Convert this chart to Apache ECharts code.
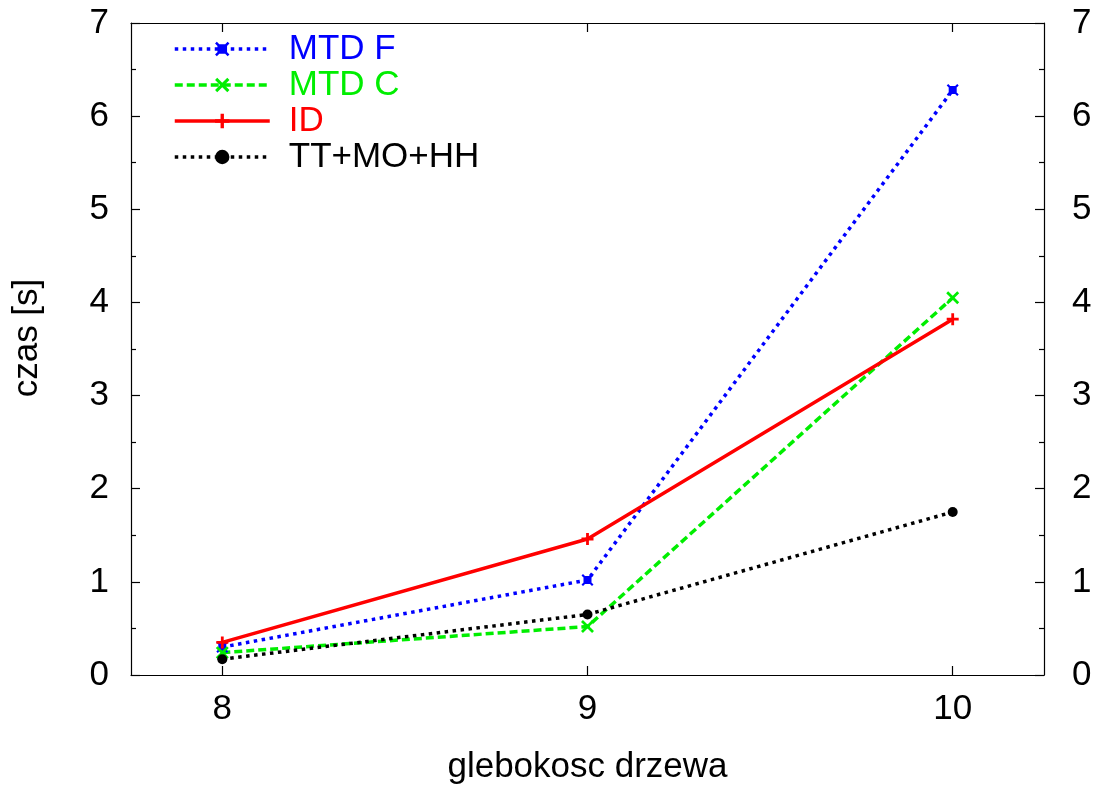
<!DOCTYPE html>
<html>
<head>
<meta charset="utf-8">
<title>czas vs glebokosc drzewa</title>
<script src="https://cdn.jsdelivr.net/npm/echarts@6/dist/echarts.min.js"></script>
<style>
  html, body { margin: 0; padding: 0; background: #fff; }
  #chart { width: 1100px; height: 790px; }
</style>
</head>
<body>
<div id="chart"></div>
<script>
// tree depth on the x axis
const depths = [8, 9, 10];
// running time in seconds for each method
const mtdF = [0.30, 1.02, 6.28];
const mtdC = [0.24, 0.52, 4.05];
const idSearch = [0.35, 1.46, 3.82];
const ttMoHh = [0.17, 0.65, 1.75];

const seriesNames = ['MTD F', 'MTD C', 'ID', 'TT+MO+HH'];
const seriesColors = ['#0000ff', '#00ee00', '#ff0000', '#000000'];

const xTicks = [8, 9, 10];
const yMax = 7;

const FONT = "'Liberation Sans', Arial, Helvetica, sans-serif";
const FS = 35;

// marker shapes
const boxCross = 'path://M2,2H10V10H2Z M0,1.5L1.5,0L6,4.5L10.5,0L12,1.5L7.5,6L12,10.5L10.5,12L6,7.5L1.5,12L0,10.5L4.5,6Z';
const crossX = 'path://M0,1.8L1.8,0L6,4.2L10.2,0L12,1.8L7.8,6L12,10.2L10.2,12L6,7.8L1.8,12L0,10.2L4.2,6Z';
const plus = 'path://M4.6,0H7.4V4.6H12V7.4H7.4V12H4.6V7.4H0V4.6H4.6Z';

function pairs(vals) {
  return depths.map((d, i) => [d, vals[i]]);
}

const chart = echarts.init(document.getElementById('chart'), null, { renderer: 'canvas' });

const baseX = {
  type: 'value', min: 7.75, max: 10.25,
  axisLine: { show: true, onZero: false, lineStyle: { color: '#000', width: 1.2 } },
  splitLine: { show: false },
};
const baseY = {
  type: 'value', min: 0, max: yMax, interval: 1,
  axisLine: { show: true, lineStyle: { color: '#000', width: 1.2 } },
  axisTick: { show: true, inside: true, length: 9, lineStyle: { color: '#000', width: 1.2 } },
  minorTick: { show: true, splitNumber: 2, length: 5, lineStyle: { color: '#000', width: 1.2 } },
  splitLine: { show: false },
};

chart.setOption({
  animation: false,
  backgroundColor: '#fff',
  textStyle: { fontFamily: FONT },
  grid: { left: 131, right: 56, top: 23, bottom: 110, containLabel: false },
  legend: {
    orient: 'vertical',
    left: 173, top: 31,
    itemWidth: 95, itemHeight: 18, itemGap: 0,
    padding: 0,
    lineStyle: { width: 'inherit' },
    textStyle: { fontSize: FS, fontFamily: FONT, lineHeight: 36, padding: [0, 0, 0, 14] },
    data: seriesNames.map((n, i) => ({ name: n, textStyle: { color: seriesColors[i] } })),
  },
  xAxis: [
    Object.assign({}, baseX, {
      position: 'bottom',
      name: 'glebokosc drzewa', nameLocation: 'middle', nameGap: 75,
      nameTextStyle: { fontSize: FS, color: '#000', fontFamily: FONT },
      axisTick: { show: true, inside: true, length: 9, customValues: xTicks, lineStyle: { color: '#000', width: 1.2 } },
      axisLabel: { show: true, customValues: xTicks, fontSize: FS, color: '#000', margin: 17, fontFamily: FONT },
    }),
    Object.assign({}, baseX, {
      position: 'top',
      axisTick: { show: true, inside: true, length: 9, customValues: xTicks, lineStyle: { color: '#000', width: 1.2 } },
      axisLabel: { show: false },
    }),
  ],
  yAxis: [
    Object.assign({}, baseY, {
      position: 'left',
      name: 'czas [s]', nameLocation: 'middle', nameGap: 86, nameRotate: 90,
      nameTextStyle: { fontSize: FS, color: '#000', fontFamily: FONT, padding: [0, 0, 0, 22] },
      axisLabel: { fontSize: FS, color: '#000', margin: 22, fontFamily: FONT },
    }),
    Object.assign({}, baseY, {
      position: 'right',
      axisLabel: { fontSize: FS, color: '#000', margin: 28, fontFamily: FONT, align: 'left' },
    }),
  ],
  series: [
    {
      name: 'MTD F', type: 'line', data: pairs(mtdF),
      symbol: boxCross, symbolSize: 12,
      itemStyle: { color: seriesColors[0] },
      lineStyle: { color: seriesColors[0], width: 3.5, type: [3.5, 4.5] },
    },
    {
      name: 'MTD C', type: 'line', data: pairs(mtdC),
      symbol: crossX, symbolSize: 13,
      itemStyle: { color: seriesColors[1] },
      lineStyle: { color: seriesColors[1], width: 3.5, type: [8, 4] },
    },
    {
      name: 'ID', type: 'line', data: pairs(idSearch),
      symbol: plus, symbolSize: 12,
      itemStyle: { color: seriesColors[2] },
      lineStyle: { color: seriesColors[2], width: 3.5, type: 'solid' },
    },
    {
      name: 'TT+MO+HH', type: 'line', data: pairs(ttMoHh),
      symbol: 'circle', symbolSize: 10,
      itemStyle: { color: seriesColors[3] },
      lineStyle: { color: seriesColors[3], width: 3.5, type: [3.5, 4.5] },
    },
  ],
});
</script>
</body>
</html>
